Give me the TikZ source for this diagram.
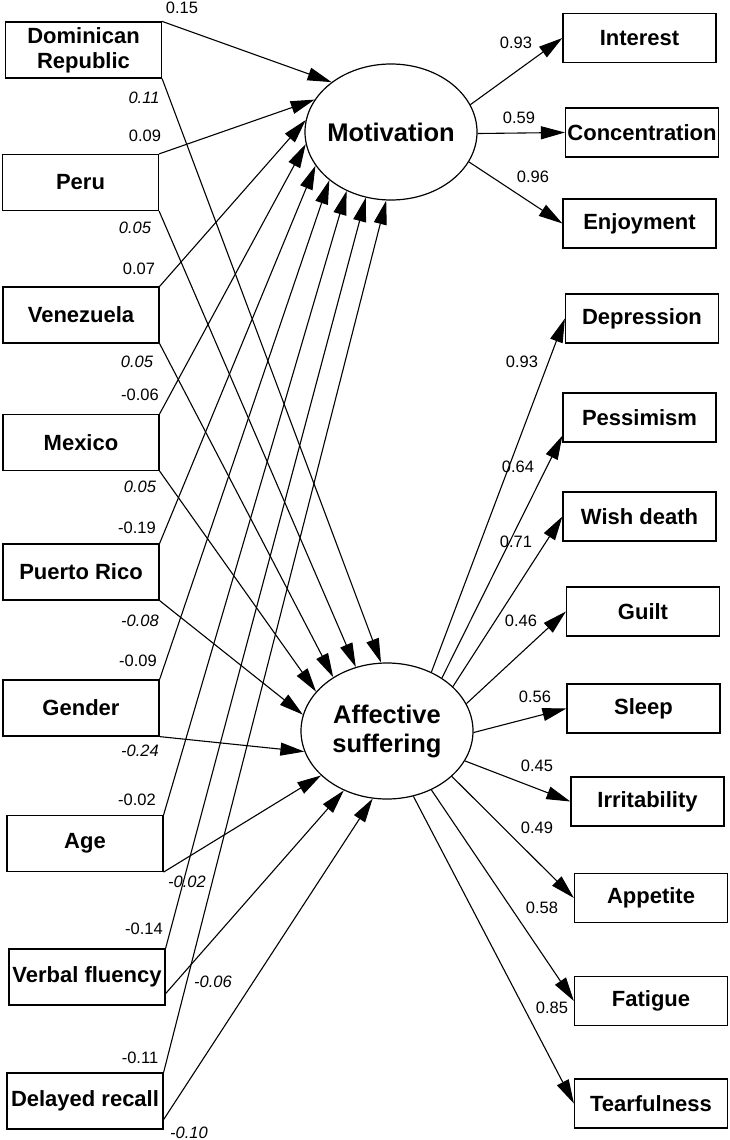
\documentclass[tikz,border=0pt]{standalone}
\usepackage{fontspec}
\setmainfont{Liberation Sans}
\usetikzlibrary{shapes.geometric,arrows.meta}
\begin{document}
\begin{tikzpicture}[x=1pt,y=-1pt,
  obs/.style={draw, line width=1.2pt, rectangle, inner sep=0pt, font=\fontsize{22}{25}\selectfont\bfseries, align=center},
  lbox/.style={obs, minimum width=156pt, minimum height=56pt},
  rbox/.style={obs, minimum width=153pt, minimum height=49pt},
  lat/.style={draw, line width=1.2pt, ellipse, inner sep=0pt, minimum width=172pt, minimum height=136pt, font=\fontsize{25.5}{29}\selectfont\bfseries, align=center},
  pth/.style={line width=1.1pt, -{Triangle[length=24pt,width=13pt]}},
  coef/.style={font=\fontsize{16.5}{18}\selectfont, inner sep=0pt},
  coefi/.style={font=\fontsize{16.5}{18}\selectfont\itshape, inner sep=0pt}
]
\useasboundingbox (0,0) rectangle (729,1140);

% left boxes
\node[lbox] (dr)   at (83.5,50)   {Dominican\\Republic};
\node[lbox] (peru) at (80.5,182.5) {Peru};
\node[lbox] (ven)  at (81,315)    {Venezuela};
\node[lbox] (mex)  at (81,442.5)  {Mexico};
\node[lbox] (pr)   at (81,572)    {Puerto Rico};
\node[lbox] (gen)  at (81,708)    {Gender};
\node[lbox] (age)  at (85,843.5)  {Age};
\node[lbox] (vf)   at (87,977)    {Verbal fluency};
\node[lbox] (dl)   at (85,1101)   {Delayed recall};

% latent variables
\node[lat] (mot) at (391,132) {\makebox[0pt]{Motivation}};
\node[lat] (aff) at (387,731) {\makebox[0pt]{Affective}\\\makebox[0pt]{suffering}};

% right boxes
\node[rbox] (int)   at (639.5,38)    {Interest};
\node[rbox] (con)   at (642,132.5)   {Concentration};
\node[rbox] (enj)   at (639.5,223.5) {Enjoyment};
\node[rbox] (dep)   at (642,318.5)   {Depression};
\node[rbox] (pes)   at (639.5,417.5) {Pessimism};
\node[rbox] (wish)  at (639.5,516.5) {Wish death};
\node[rbox] (guilt) at (643,611.5)   {Guilt};
\node[rbox] (sleep) at (643.5,708.5) {Sleep};
\node[rbox] (irr)   at (647.5,801.5) {Irritability};
\node[rbox] (app)   at (651,898)     {Appetite};
\node[rbox] (fat)   at (651,1001)    {Fatigue};
\node[rbox] (tear)  at (651,1103.5)  {Tearfulness};

% paths to Motivation
\draw[pth] (dr.north east)   -- (mot.140.7);
\draw[pth] (peru.north east) -- (mot.157.1);
\draw[pth] (ven.north east)  -- (mot.172);
\draw[pth] (mex.north east)  -- (mot.188.5);
\draw[pth] (pr.north east)   -- (mot.204.2);
\draw[pth] (gen.north east)  -- (mot.218);
\draw[pth] (age.north east)  -- (mot.233);
\draw[pth] (vf.north east)   -- (mot.249);
\draw[pth] (dl.north east)   -- (mot.266.7);

% paths to Affective suffering
\draw[pth] (dr.south east)   -- (aff.95.9);
\draw[pth] (peru.south east) -- (aff.116.6);
\draw[pth] (ven.south east)  -- (aff.135);
\draw[pth] (mex.south east)  -- (aff.151.6);
\draw[pth] (pr.south east)   -- (aff.169.3);
\draw[pth] (gen.south east)  -- (aff.194);
\draw[pth] (age.south east)  -- (aff.214.5);
\draw[pth] ([yshift=12pt]vf.south east) -- (aff.234.6);
\draw[pth] ([yshift=10pt]dl.south east) -- (aff.258.5);

% indicators
\draw[pth] (mot.19.7)  -- (int.west);
\draw[pth] (mot.-1)    -- (con.west);
\draw[pth] (mot.-21.4) -- (enj.west);
\draw[pth] (aff.53.6)  -- (dep.west);
\draw[pth] (aff.44)    -- ([yshift=7pt]pes.south west);
\draw[pth] (aff.34.9)  -- (wish.west);
\draw[pth] (aff.19.1)  -- (guilt.west);
\draw[pth] (aff.-1.3)  -- (sleep.west);
\draw[pth] (aff.-21.2) -- (irr.west);
\draw[pth] (aff.-35.5) -- (app.west);
\draw[pth] (aff.-53)   -- (fat.west);
\draw[pth] (aff.-68.8) -- (tear.west);

% coefficients, left
\node[coef]  (c1)  at (182,8)    {0.15};
\node[coefi] (c2)  at (144,98)   {0.11};
\node[coef]  (c3)  at (145,136)  {0.09};
\node[coefi] (c4)  at (135,228)  {0.05};
\node[coef]  (c5)  at (139,269)  {0.07};
\node[coefi] (c6)  at (137,362)  {0.05};
\node[coef]  (c7)  at (140,395)  {-0.06};
\node[coefi] (c8)  at (140,487)  {0.05};
\node[coef]  (c9)  at (137,528)  {-0.19};
\node[coefi] (c10) at (140,621)  {-0.08};
\node[coef]  (c11) at (138,661)  {-0.09};
\node[coefi] (c12) at (140,751)  {-0.24};
\node[coef]  (c13) at (137,800)  {-0.02};
\node[coefi] (c14) at (187,882)  {-0.02};
\node[coef]  (c15) at (144,929)  {-0.14};
\node[coefi] (c16) at (213,982)  {-0.06};
\node[coef]  (c17) at (140,1058) {-0.11};
\node[coefi] (c18) at (189,1133) {-0.10};

% coefficients, right
\node[coef] (r1)  at (516,43)   {0.93};
\node[coef] (r2)  at (519,118)  {0.59};
\node[coef] (r3)  at (533,177)  {0.96};
\node[coef] (r4)  at (522,362)  {0.93};
\node[coef] (r5)  at (518,467)  {0.64};
\node[coef] (r6)  at (516,542)  {0.71};
\node[coef] (r7)  at (521,621)  {0.46};
\node[coef] (r8)  at (535,697)  {0.56};
\node[coef] (r9)  at (537,766)  {0.45};
\node[coef] (r10) at (537,828)  {0.49};
\node[coef] (r11) at (542,908)  {0.58};
\node[coef] (r12) at (552,1008) {0.85};
\end{tikzpicture}
\end{document}
